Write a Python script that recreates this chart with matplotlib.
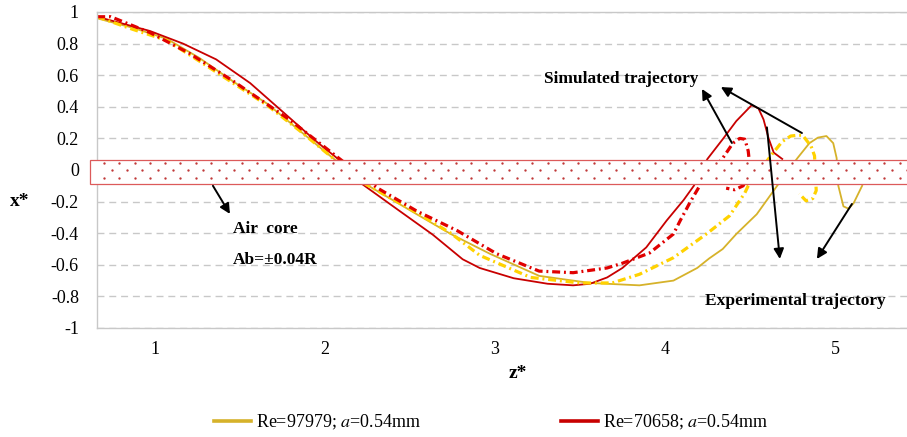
import numpy as np
import matplotlib
matplotlib.use('Agg')
import matplotlib.pyplot as plt
from matplotlib.patches import Rectangle

plt.rcParams['font.family'] = ['Liberation Serif', 'DejaVu Serif']
plt.rcParams['mathtext.fontset'] = 'stix'

# experimental trajectory, Re=97979 (yellow, solid)
z_exp_97979 = [0.66, 0.87, 1.07, 1.26, 1.46, 1.66, 1.85, 2.03, 2.24, 2.54, 2.74, 2.97,
               3.26, 3.56, 3.85, 4.05, 4.19, 4.26, 4.34, 4.42, 4.54, 4.63, 4.66, 4.72,
               4.78, 4.85, 4.90, 4.95, 4.99, 5.01, 5.02, 5.05, 5.08, 5.11, 5.16]
x_exp_97979 = [0.96, 0.90, 0.83, 0.71, 0.56, 0.42, 0.25, 0.09, -0.09, -0.28, -0.405, -0.53,
               -0.67, -0.715, -0.73, -0.70, -0.62, -0.56, -0.50, -0.405, -0.28, -0.145, -0.10, -0.01,
               0.076, 0.17, 0.205, 0.215, 0.17, 0.076, -0.10, -0.23, -0.245, -0.21, -0.10]

# experimental trajectory, Re=70658 (red, solid)
z_exp_70658 = [0.66, 0.97, 1.165, 1.36, 1.56, 1.75, 1.95, 2.07, 2.22, 2.44, 2.635, 2.81,
               2.91, 3.11, 3.31, 3.46, 3.56, 3.66, 3.75, 3.89, 4.01, 4.11, 4.17, 4.25,
               4.34, 4.42, 4.51, 4.55, 4.58, 4.61, 4.64, 4.69]
x_exp_70658 = [0.97, 0.88, 0.80, 0.70, 0.55, 0.37, 0.18, 0.076, -0.09, -0.26, -0.41, -0.565,
               -0.62, -0.685, -0.72, -0.73, -0.72, -0.68, -0.62, -0.49, -0.32, -0.19, -0.10, 0.07,
               0.195, 0.31, 0.41, 0.39, 0.32, 0.20, 0.11, 0.07]

# simulated trajectory, Re=70658 (red, dash-dot)
z_sim_70658 = [0.66, 0.74, 0.97, 1.2, 1.45, 1.79, 2.08, 2.31, 2.54, 2.78, 3.01, 3.26,
               3.46, 3.66, 3.75, 3.91, 4.05, 4.09, 4.15, 4.21, 4.34, 4.40, 4.44, 4.47,
               4.49, 4.495, 4.48, 4.46, 4.41, 4.36]
x_sim_70658 = [0.97, 0.97, 0.87, 0.74, 0.57, 0.32, 0.076, -0.115, -0.26, -0.385, -0.53, -0.64,
               -0.65, -0.62, -0.59, -0.525, -0.405, -0.32, -0.20, -0.09, 0.075, 0.17, 0.20, 0.195,
               0.12, 0.07, -0.06, -0.10, -0.125, -0.115]

# simulated trajectory, Re=97979 (yellow, dash-dot)
z_sim_97979 = [0.66, 0.87, 1.07, 1.26, 1.46, 1.66, 1.85, 2.03, 2.24, 2.54, 2.74, 2.91,
               3.21, 3.5, 3.69, 3.85, 4.05, 4.25, 4.38, 4.47, 4.49, 4.63, 4.69, 4.74,
               4.78, 4.81, 4.86, 4.88, 4.89, 4.87, 4.83, 4.79]
x_sim_97979 = [0.97, 0.89, 0.82, 0.69, 0.55, 0.41, 0.25, 0.09, -0.09, -0.27, -0.40, -0.54,
               -0.68, -0.715, -0.715, -0.66, -0.555, -0.40, -0.29, -0.145, -0.10, 0.10, 0.18, 0.215,
               0.22, 0.22, 0.15, 0.09, -0.13, -0.18, -0.195, -0.15]

y_ticks = [1, 0.8, 0.6, 0.4, 0.2, 0, -0.2, -0.4, -0.6, -0.8, -1]
y_tick_labels = ['1', '0.8', '0.6', '0.4', '0.2', '0', '-0.2', '-0.4', '-0.6', '-0.8', '-1']
x_ticks = [1, 2, 3, 4, 5]
x_tick_labels = ['1', '2', '3', '4', '5']

air_core = (0.063, -0.088)   # band limits drawn for the air core

# arrows: (start, end)
sim_arrows = [((4.394, 0.171), (4.218, 0.513)), ((4.806, 0.234), (4.329, 0.525))]
exp_arrows = [((4.60, 0.27), (4.676, -0.563)), ((5.10, -0.215), (4.894, -0.563))]
air_arrow = ((1.341, -0.10), (1.441, -0.278))

yellow = '#D6B22A'
yellow_dd = '#FFD200'
red = '#C80000'
red_dd = '#E00000'
grid_c = '#C8C8C8'

fig = plt.figure(figsize=(9.07, 4.37), dpi=100)
ax = fig.add_axes([97 / 907, 109 / 437, 810 / 907, 316 / 437])

dd_style = (0, (2.5, 1.2, 0.6, 1.2))
l1, = ax.plot(z_exp_97979, x_exp_97979, color=yellow, lw=1.3, zorder=2,
              label='Re=97979; $a$=0.54mm')
l2, = ax.plot(z_exp_70658, x_exp_70658, color=red, lw=1.3, zorder=2,
              label='Re=70658; $a$=0.54mm')
ax.plot(z_sim_97979, x_sim_97979, color=yellow_dd, lw=2.3, ls=dd_style, zorder=2)
ax.plot(z_sim_70658, x_sim_70658, color=red_dd, lw=2.3, ls=dd_style, zorder=2)

# air core band with dotted fill
band = Rectangle((0.615, air_core[1]), 6.0, air_core[0] - air_core[1],
                 facecolor='white', edgecolor='#DC5A5A', lw=0.9, zorder=3, clip_on=False)
ax.add_patch(band)
step = 0.09
rows = [0.044, -0.003, -0.05]
for i, ry in enumerate(rows):
    xs = np.arange(0.70 + (step / 2 if i == 1 else 0), 5.45, step)
    ax.plot(xs, np.full_like(xs, ry), ls='none', marker='o', ms=1.7, mew=0,
            color='#C03838', zorder=4, clip_on=False)

ax.set_xlim(0.659, 5.424)
ax.set_ylim(-1, 1)
ax.set_yticks(y_ticks)
ax.set_yticklabels(y_tick_labels)
ax.set_xticks(x_ticks)
ax.set_xticklabels(x_tick_labels)
ax.tick_params(axis='both', length=0, labelsize=13)
ax.tick_params(axis='y', pad=13)
ax.tick_params(axis='x', pad=9)

ax.yaxis.grid(True, color=grid_c, lw=1.0, ls=(0, (5, 3.5)), zorder=1)
ax.set_axisbelow(True)
for s in ['top', 'left', 'bottom']:
    ax.spines[s].set_color(grid_c)
    ax.spines[s].set_linewidth(1.0)
ax.spines['right'].set_visible(False)

ax.set_xlabel('z*', fontsize=14, fontweight='bold')
ax.xaxis.set_label_coords((518 - 97) / 810, (328 - 373) / 316)
ax.xaxis.label.set_va('center')
ax.set_ylabel('x*', fontsize=14, fontweight='bold', rotation=0)
ax.yaxis.set_label_coords((20 - 97) / 810, (328 - 202) / 316)
ax.yaxis.label.set_va('center')

arrow_kw = dict(arrowstyle='-|>', color='black', lw=1.4, mutation_scale=15,
                shrinkA=0, shrinkB=0)
for start, end in sim_arrows + exp_arrows + [air_arrow]:
    ax.annotate('', xy=end, xytext=start, arrowprops=arrow_kw, zorder=6)

ax.text(3.29, 0.576, 'Simulated trajectory', fontsize=12.5, fontweight='bold',
        ha='left', va='center', zorder=6)
ax.text(4.235, -0.83, 'Experimental trajectory', fontsize=12.5, fontweight='bold',
        ha='left', va='center', zorder=6)
ax.text(1.459, -0.373, 'Air  core', fontsize=12.5, fontweight='bold',
        ha='left', va='center', zorder=6)
ax.text(1.459, -0.57, 'Ab=±0.04R', fontsize=12.5, fontweight='bold',
        ha='left', va='center', zorder=6)

leg = fig.legend(handles=[l1, l2], loc='center', bbox_to_anchor=(491 / 907, 15 / 437),
                 ncol=2, frameon=False, fontsize=13, handlelength=2.05,
                 handletextpad=0.25, columnspacing=7.8)
for ln in leg.get_lines():
    ln.set_linewidth(2.6)

fig.savefig('out.png', dpi=100)
